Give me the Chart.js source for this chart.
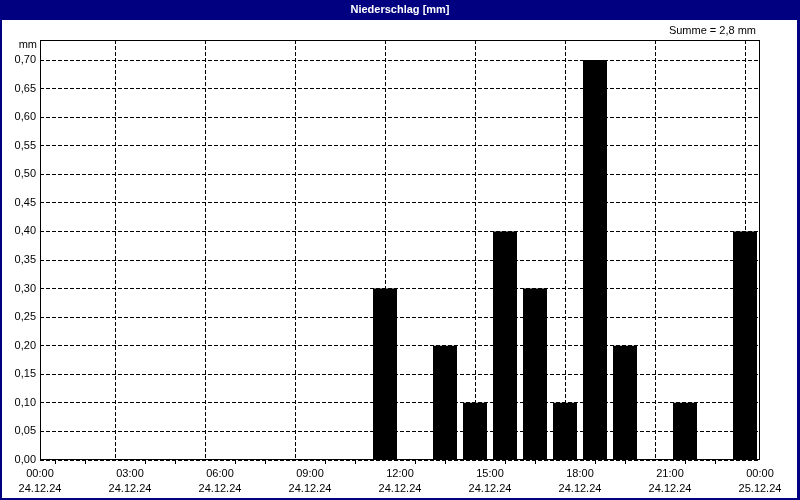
<!DOCTYPE html>
<html>
<head>
<meta charset="utf-8">
<script src="https://cdn.jsdelivr.net/npm/chart.js@4/dist/chart.umd.min.js"></script>
<style>
  html, body { margin: 0; padding: 0; background: #fff; }
  canvas { display: block; }
</style>
</head>
<body>
<canvas id="rain-chart" width="800" height="500"></canvas>
<script>
// Niederschlag pro Stunde, 24.12.24 00:00 bis 25.12.24 00:00
const titleText = 'Niederschlag [mm]';
const sumText = 'Summe = 2,8 mm';
const unitText = 'mm';

const hourStarts = [0, 1, 2, 3, 4, 5, 6, 7, 8, 9, 10, 11, 12, 13, 14, 15, 16, 17, 18, 19, 20, 21, 22, 23];
const rain = [0, 0, 0, 0, 0, 0, 0, 0, 0, 0, 0, 0.3, 0, 0.2, 0.1, 0.4, 0.3, 0.1, 0.7, 0.2, 0, 0.1, 0, 0.4];

const timeLabels = ['00:00', '03:00', '06:00', '09:00', '12:00', '15:00', '18:00', '21:00', '00:00'];
const dateLabels = ['24.12.24', '24.12.24', '24.12.24', '24.12.24', '24.12.24', '24.12.24', '24.12.24', '24.12.24', '25.12.24'];

const FONT = '"Liberation Sans", Arial, sans-serif';
const NAVY = '#000080';

// Rahmen, Titelleiste und Zusatztexte
const framePlugin = {
    id: 'frame',
    beforeDraw(chart) {
        const { ctx, width, height } = chart;
        ctx.save();
        ctx.fillStyle = NAVY;
        ctx.fillRect(0, 0, width, height);
        ctx.fillStyle = '#fff';
        ctx.fillRect(2, 20, width - 5, height - 22);

        ctx.font = 'bold 11px ' + FONT;
        ctx.textAlign = 'center';
        ctx.textBaseline = 'middle';
        ctx.fillText(titleText, width / 2, 10);

        ctx.fillStyle = '#000';
        ctx.font = '11px ' + FONT;
        ctx.textAlign = 'right';
        ctx.fillText(sumText, 756, 31);
        ctx.fillText(unitText, 37, 45);
        ctx.restore();
    },
    afterDatasetsDraw(chart) {
        const { ctx, chartArea } = chart;
        ctx.save();
        ctx.strokeStyle = '#000';
        ctx.lineWidth = 1;
        ctx.strokeRect(Math.round(chartArea.left) + 0.5, Math.round(chartArea.top) + 0.5,
            Math.round(chartArea.right - chartArea.left) - 1, Math.round(chartArea.bottom - chartArea.top) - 1);
        ctx.restore();
    }
};

new Chart(document.getElementById('rain-chart'), {
    type: 'bar',
    data: {
        datasets: [{
            label: 'Niederschlag',
            data: hourStarts.map((h, i) => ({ x: h + 0.5, y: rain[i] })),
            backgroundColor: '#000',
            borderWidth: 0,
            barPercentage: 0.8,
            categoryPercentage: 1
        }]
    },
    options: {
        responsive: false,
        animation: false,
        layout: { padding: { left: 0, top: 40, right: 40, bottom: 0 } },
        plugins: {
            legend: { display: false },
            tooltip: { enabled: false }
        },
        scales: {
            x: {
                type: 'linear',
                min: 0,
                max: 24,
                offset: false,
                afterBuildTicks: scale => {
                    const t = [];
                    for (let v = 0; v <= 24; v++) t.push({ value: v });
                    scale.ticks = t;
                },
                ticks: {
                    autoSkip: false,
                    maxRotation: 0,
                    padding: 2,
                    color: '#000',
                    font: { family: FONT, size: 11, lineHeight: 1.4 },
                    callback: v => v % 3 === 0 ? [timeLabels[v / 3], dateLabels[v / 3]] : ''
                },
                grid: {
                    color: c => (c.tick && c.tick.value % 3 === 0) ? '#000' : 'rgba(0,0,0,0)',
                    tickColor: c => (c.tick && c.tick.value % 3 !== 0) ? '#000' : 'rgba(0,0,0,0)',
                    tickLength: 4,
                    lineWidth: 1
                },
                border: { display: false, dash: [4, 2] },
                afterFit: s => { s.height = 40; }
            },
            y: {
                min: 0,
                max: 0.735,
                afterBuildTicks: scale => {
                    scale.ticks = scale.ticks.filter(t => t.value <= 0.7001);
                },
                ticks: {
                    stepSize: 0.05,
                    padding: 4,
                    color: '#000',
                    font: { family: FONT, size: 11 },
                    callback: v => v.toFixed(2).replace('.', ',')
                },
                grid: { color: '#000', drawTicks: false, lineWidth: 1 },
                border: { display: false, dash: [4, 2] },
                afterFit: s => { s.width = 40; }
            }
        }
    },
    plugins: [framePlugin]
});
</script>
</body>
</html>
